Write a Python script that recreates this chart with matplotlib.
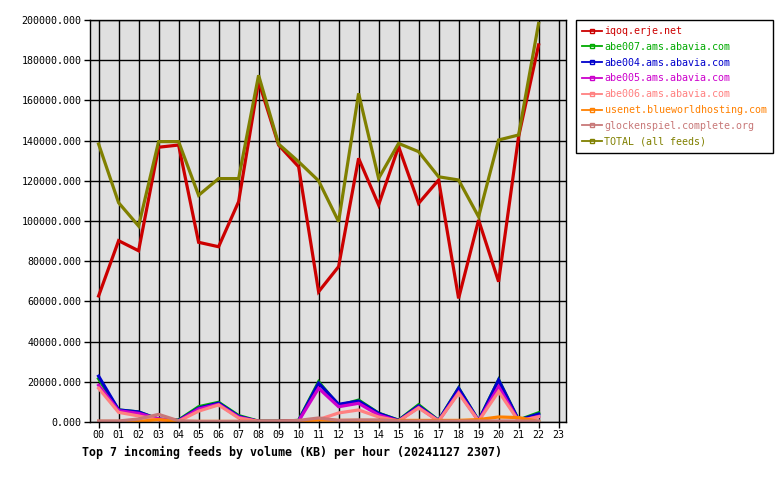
import matplotlib
matplotlib.use('Agg')
import matplotlib.pyplot as plt
from matplotlib.lines import Line2D
import numpy as np

# hourly volume (KB) per feed, hours 00..22
hours = list(range(23))
hour_labels = ['%02d' % h for h in range(24)]

iqoq = [62700, 90200, 85200, 136700, 137800, 89400, 87200, 109600, 169500, 137800,
        127000, 64800, 77300, 131200, 108000, 137000, 108800, 120400, 61500, 100500,
        69800, 142000, 187600]
abe007 = [21500, 6000, 5000, 1400, 1000, 7600, 9800, 3200, 400, 400,
          800, 20000, 8200, 10900, 4400, 900, 8600, 800, 16900, 700,
          21000, 1000, 4600]
abe004 = [22800, 6000, 5000, 1300, 800, 6900, 9400, 2800, 300, 300,
          600, 19300, 8800, 10400, 4300, 800, 8000, 700, 16800, 600,
          20900, 900, 4000]
abe005 = [18300, 5600, 4300, 1600, 500, 6500, 8800, 2400, 300, 300,
          500, 16800, 7600, 9300, 3500, 500, 7300, 500, 14800, 500,
          17600, 500, 2800]
abe006 = [16800, 4800, 3000, 1000, 400, 5400, 8500, 2000, 300, 300,
          500, 1200, 4500, 6000, 2500, 500, 7000, 500, 14300, 500,
          15200, 500, 2600]
usenet = [300, 300, 300, 1200, 300, 300, 300, 300, 300, 300,
          400, 1000, 800, 800, 800, 800, 800, 800, 800, 1200,
          2500, 2200, 300]
glocken = [500, 500, 1500, 3800, 600, 300, 300, 300, 300, 300,
           800, 2000, 800, 1000, 1000, 500, 500, 500, 500, 500,
           500, 500, 500]
total = [138300, 109100, 97500, 139500, 139500, 112800, 121100, 121100, 172500, 138300,
         129500, 120000, 99700, 163500, 121200, 138600, 134500, 122000, 120400, 102100,
         140300, 142800, 198300]

names = ['iqoq.erje.net', 'abe007.ams.abavia.com', 'abe004.ams.abavia.com',
         'abe005.ams.abavia.com', 'abe006.ams.abavia.com',
         'usenet.blueworldhosting.com', 'glockenspiel.complete.org',
         'TOTAL (all feeds)']
series = [iqoq, abe007, abe004, abe005, abe006, usenet, glocken, total]
colors = ['#cc0000', '#00aa00', '#0000cc', '#cc00cc', '#ff8080',
          '#ff8000', '#c87878', '#808000']

mono = 'DejaVu Sans Mono'
fig = plt.figure(figsize=(7.8, 4.8), dpi=100)
ax = fig.add_axes([90/780, 58/480, 476/780, 402/480])
ax.set_facecolor('#e0e0e0')

for data, c in zip(series, colors):
    ax.plot(hours, data, color=c, linewidth=2.3, solid_joinstyle='miter')

ax.set_xlim(-0.43, 23.37)
ax.set_ylim(0, 200000)
ax.set_xticks(range(24))
ax.set_xticklabels(hour_labels, fontfamily=mono, fontsize=7.2)
yt = np.arange(0, 200001, 20000)
ax.set_yticks(yt)
ax.set_yticklabels(['%.3f' % v for v in yt], fontfamily=mono, fontsize=7.2)
ax.tick_params(axis='both', direction='out', length=4, width=1, color='black', pad=2)
ax.grid(True, color='black', linewidth=1)
ax.set_axisbelow(True)
for s in ax.spines.values():
    s.set_linewidth(1)
    s.set_color('black')

fig.text(82/780, 1 - 452/480, 'Top 7 incoming feeds by volume (KB) per hour (20241127 2307)',
         fontfamily=mono, fontweight='bold', fontsize=8.35, va='center', ha='left')

handles = [Line2D([0], [0], color=c, linewidth=1.3, marker='s', markersize=3,
                  markerfacecolor='none', markeredgecolor=c) for c in colors]
leg = fig.legend(handles, names, loc='upper left', bbox_to_anchor=(576/780, 1 - 20/480),
                 prop={'family': mono, 'size': 7.2}, frameon=True, fancybox=False,
                 edgecolor='black', framealpha=1, handlelength=2.0, handletextpad=0.25,
                 labelspacing=0.58, borderpad=0.6, borderaxespad=0)
leg.get_frame().set_linewidth(1)
for t, c in zip(leg.get_texts(), colors):
    t.set_color(c)

fig.savefig('out.png', dpi=100)
